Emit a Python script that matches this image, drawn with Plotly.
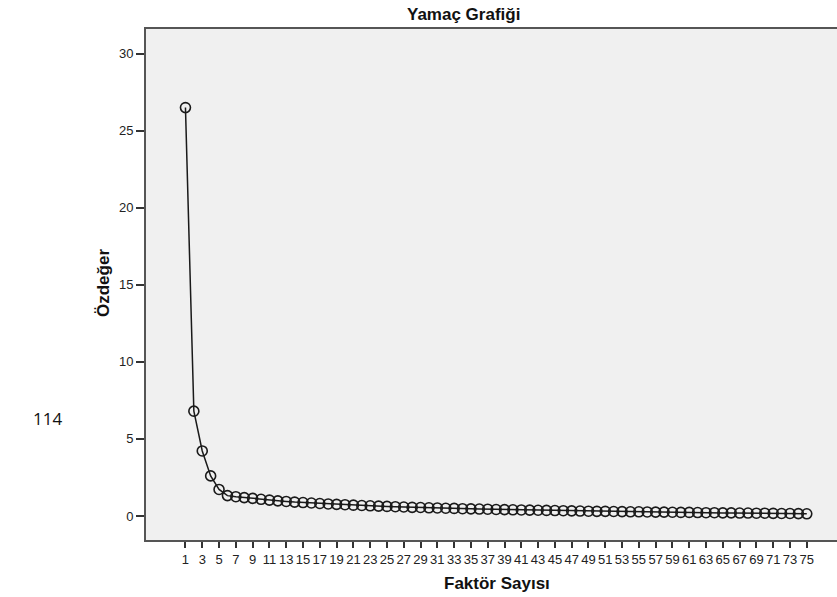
import plotly.graph_objects as go

factors = list(range(1, 76))
eigenvalues = [
    26.5, 6.8, 4.22, 2.6, 1.72, 1.32, 1.25, 1.19, 1.14, 1.08,
    1.03, 0.98, 0.94, 0.90, 0.87, 0.84, 0.81, 0.78, 0.75, 0.73,
    0.70, 0.68, 0.66, 0.64, 0.62, 0.60, 0.58, 0.56, 0.55, 0.53,
    0.52, 0.50, 0.49, 0.47, 0.46, 0.45, 0.44, 0.42, 0.41, 0.40,
    0.39, 0.38, 0.37, 0.36, 0.35, 0.34, 0.33, 0.32, 0.31, 0.30,
    0.30, 0.29, 0.28, 0.27, 0.27, 0.26, 0.25, 0.25, 0.24, 0.23,
    0.23, 0.22, 0.21, 0.21, 0.20, 0.20, 0.19, 0.19, 0.18, 0.18,
    0.17, 0.16, 0.16, 0.15, 0.14,
]
x_ticks = list(range(1, 76, 2))
y_ticks = [0, 5, 10, 15, 20, 25, 30]

fig = go.Figure()
fig.add_trace(go.Scatter(
    x=factors, y=eigenvalues, mode="lines+markers",
    line=dict(color="#1a1a1a", width=1.5),
    marker=dict(symbol="circle-open", size=10, color="#1a1a1a", line=dict(width=1.6)),
    showlegend=False, hoverinfo="x+y",
))

fig.update_layout(
    width=837, height=597,
    margin=dict(l=146, r=0, t=29, b=57),
    paper_bgcolor="white", plot_bgcolor="#f0f0f0",
    font=dict(family="Arial, Liberation Sans", size=13, color="#222"),
    xaxis=dict(
        range=[-3.7, 78.6], tickmode="array", tickvals=x_ticks,
        ticktext=[str(v) for v in x_ticks],
        showgrid=False, zeroline=False, showline=True, linecolor="#555",
        linewidth=2, mirror=True, ticks="outside", ticklen=6, tickwidth=1.5,
        tickcolor="#333", tickfont=dict(size=13, color="#222"),
    ),
    yaxis=dict(
        range=[-1.56, 31.6], tickmode="array", tickvals=y_ticks,
        showgrid=False, zeroline=False, showline=True, linecolor="#555",
        linewidth=2, ticks="outside", ticklen=8, tickwidth=1.5,
        tickcolor="#333", tickfont=dict(size=13, color="#222"),
    ),
    annotations=[
        dict(text="<b>Yamaç Grafiği</b>", xref="paper", yref="paper",
             x=(463 - 146) / 691, y=1, yshift=15, showarrow=False,
             font=dict(size=17, color="#111"), xanchor="center", yanchor="middle"),
        dict(text="<b>Faktör Sayısı</b>", xref="paper", yref="paper",
             x=(497 - 146) / 691, y=0, yshift=-43, showarrow=False,
             font=dict(size=17, color="#111"), xanchor="center", yanchor="middle"),
        dict(text="<b>Özdeğer</b>", xref="paper", yref="paper",
             x=0, xshift=-43, y=(540 - 283) / 511, showarrow=False, textangle=-90,
             font=dict(size=17, color="#111"), xanchor="center", yanchor="middle"),
        dict(text="114", xref="paper", yref="paper",
             x=0, xshift=-99, y=(540 - 418) / 511, showarrow=False,
             font=dict(size=17, color="#111", family="Open Sans, Liberation Sans"),
             xanchor="center", yanchor="middle"),
    ],
)

fig.write_html("out.html", config={"displayModeBar": False},
               post_script="document.body.style.margin='0';")
